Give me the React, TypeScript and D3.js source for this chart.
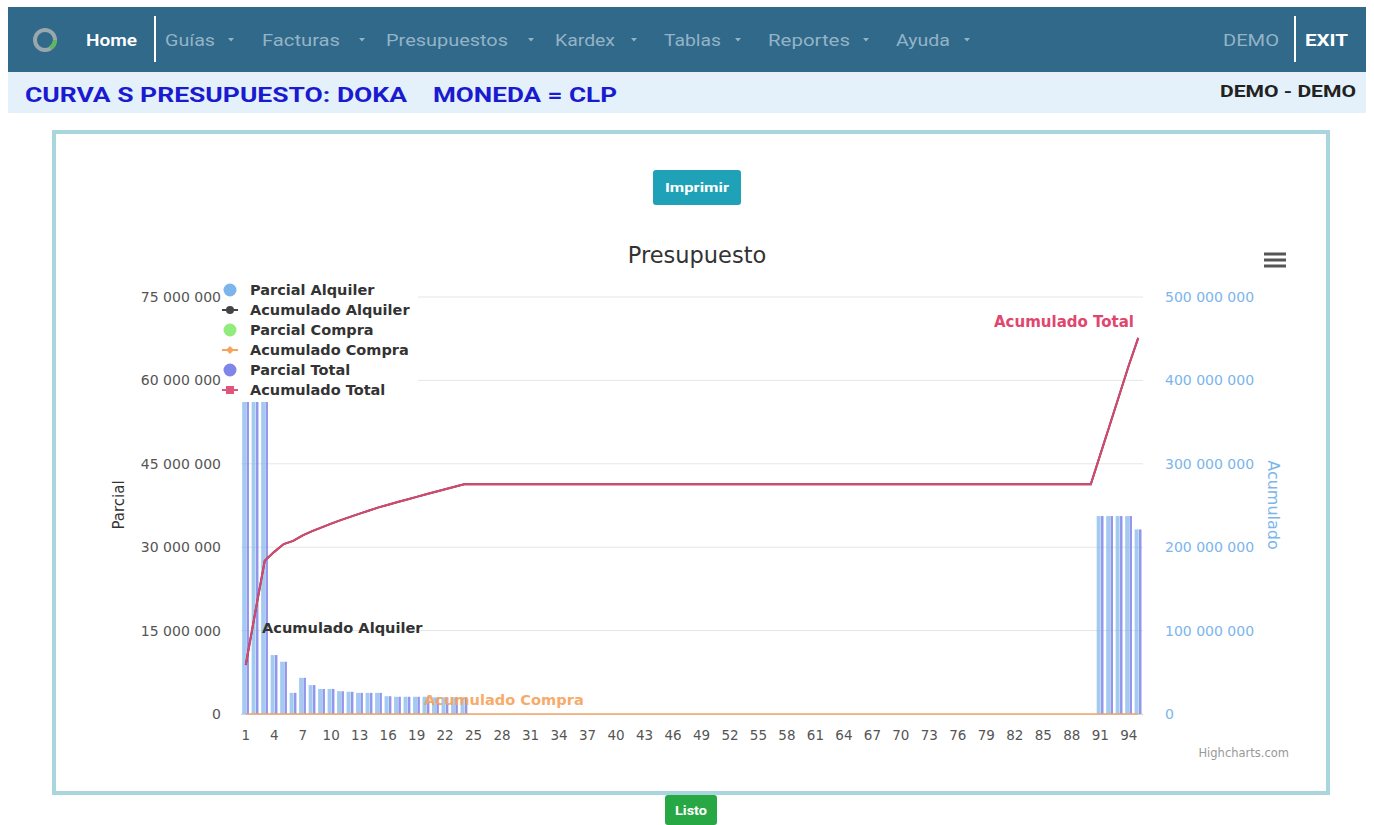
import * as d3 from "d3";

// categories 1..95 (periods)
const categories = [
  1, 2, 3, 4, 5, 6, 7, 8, 9, 10, 11, 12, 13, 14, 15, 16, 17, 18, 19, 20, 21, 22, 23, 24, 25, 26, 27, 28, 29, 30,
  31, 32, 33, 34, 35, 36, 37, 38, 39, 40, 41, 42, 43, 44, 45, 46, 47, 48, 49, 50, 51, 52, 53, 54, 55, 56, 57, 58, 59, 60,
  61, 62, 63, 64, 65, 66, 67, 68, 69, 70, 71, 72, 73, 74, 75, 76, 77, 78, 79, 80, 81, 82, 83, 84, 85, 86, 87, 88, 89, 90,
  91, 92, 93, 94, 95,
];

// values in millions CLP
const parcialAlquiler = [
  58.8, 63.0, 62.0, 10.6, 9.4, 3.8, 6.5, 5.2, 4.5, 4.5,
  4.1, 4.0, 3.8, 3.8, 3.8, 3.2, 3.1, 3.1, 3.1, 3.1,
  3.0, 3.0, 3.0, 3.0, 0, 0, 0, 0, 0, 0,
  0, 0, 0, 0, 0, 0, 0, 0, 0, 0,
  0, 0, 0, 0, 0, 0, 0, 0, 0, 0,
  0, 0, 0, 0, 0, 0, 0, 0, 0, 0,
  0, 0, 0, 0, 0, 0, 0, 0, 0, 0,
  0, 0, 0, 0, 0, 0, 0, 0, 0, 0,
  0, 0, 0, 0, 0, 0, 0, 0, 0, 0,
  35.6, 35.6, 35.6, 35.6, 33.2,
];
const parcialCompra = [
  0, 0, 0, 0, 0, 0, 0, 0, 0, 0,
  0, 0, 0, 0, 0, 0, 0, 0, 0, 0,
  0, 0, 0, 0, 0, 0, 0, 0, 0, 0,
  0, 0, 0, 0, 0, 0, 0, 0, 0, 0,
  0, 0, 0, 0, 0, 0, 0, 0, 0, 0,
  0, 0, 0, 0, 0, 0, 0, 0, 0, 0,
  0, 0, 0, 0, 0, 0, 0, 0, 0, 0,
  0, 0, 0, 0, 0, 0, 0, 0, 0, 0,
  0, 0, 0, 0, 0, 0, 0, 0, 0, 0,
  0, 0, 0, 0, 0,
];
const parcialTotal = parcialAlquiler;

const acumuladoAlquiler = [
  58.8, 121.8, 183.8, 194.4, 203.8, 207.6, 214.1, 219.3, 223.8, 228.3,
  232.4, 236.4, 240.2, 244.0, 247.8, 251.0, 254.1, 257.2, 260.3, 263.4,
  266.4, 269.4, 272.4, 275.4, 275.4, 275.4, 275.4, 275.4, 275.4, 275.4,
  275.4, 275.4, 275.4, 275.4, 275.4, 275.4, 275.4, 275.4, 275.4, 275.4,
  275.4, 275.4, 275.4, 275.4, 275.4, 275.4, 275.4, 275.4, 275.4, 275.4,
  275.4, 275.4, 275.4, 275.4, 275.4, 275.4, 275.4, 275.4, 275.4, 275.4,
  275.4, 275.4, 275.4, 275.4, 275.4, 275.4, 275.4, 275.4, 275.4, 275.4,
  275.4, 275.4, 275.4, 275.4, 275.4, 275.4, 275.4, 275.4, 275.4, 275.4,
  275.4, 275.4, 275.4, 275.4, 275.4, 275.4, 275.4, 275.4, 275.4, 275.4,
  311.0, 346.6, 382.2, 417.8, 451.0,
];
const acumuladoCompra = parcialCompra;
const acumuladoTotal = acumuladoAlquiler;

const leftTicks = [0, 15, 30, 45, 60, 75];
const rightTicks = [0, 100, 200, 300, 400, 500];

const navItems = ["Guías", "Facturas", "Presupuestos", "Kardex", "Tablas", "Reportes", "Ayuda"];
const navX = [165, 262, 386, 555, 664, 768, 896];
const navW = [50, 78, 122, 60, 57, 82, 54];
const navCaretX = [231, 362, 531, 634, 738, 866, 967];

const legendItems = [
  { name: "Parcial Alquiler", color: "#7cb5ec", kind: "column" },
  { name: "Acumulado Alquiler", color: "#434348", kind: "circle" },
  { name: "Parcial Compra", color: "#90ed7d", kind: "column" },
  { name: "Acumulado Compra", color: "#f7a35c", kind: "diamond" },
  { name: "Parcial Total", color: "#8085e9", kind: "column" },
  { name: "Acumulado Total", color: "#e0557a", kind: "square" },
];

const fmt = (v: number) => d3.format(",")(v).replace(/,/g, " ");

export default function App() {
  const W = 1374, H = 825;
  const x = d3.scaleBand<number>().domain(categories).range([241, 1143]).padding(0);
  const yL = d3.scaleLinear().domain([0, 75]).range([714, 297]);
  const yR = d3.scaleLinear().domain([0, 500]).range([714, 297]);
  const bw = x.bandwidth();
  const line = d3.line<number>().x((_, i) => x(categories[i])! + bw / 2).y((d) => yR(d));
  const chartFont = "'DejaVu Sans', Verdana, sans-serif";
  const uiFont = "Roboto, 'Liberation Sans', Arial, sans-serif";
  const fit = "spacingAndGlyphs";

  return (
    <div style={{ position: "absolute", left: 0, top: 0, width: W, height: H, background: "#fff" }}>
      <svg width={W} height={H} style={{ display: "block" }}>
        {/* navbar */}
        <rect x={8} y={7} width={1358} height={65} fill="#30698a" />
        <circle cx={45} cy={40} r={10} fill="none" stroke="#9aa7ad" strokeWidth={4} />
        <path d="M 50 48 A 10 10 0 0 0 55 40" fill="none" stroke="#5cb85c" strokeWidth={4} />
        <text x={86} y={46} fill="#fff" fontFamily={uiFont} fontSize={17} fontWeight={600} textLength={51} lengthAdjust={fit}>Home</text>
        <line x1={155} x2={155} y1={16} y2={62} stroke="#fff" strokeWidth={2} />
        {navItems.map((n, i) => (
          <g key={n}>
            <text x={navX[i]} y={46} fill="#94b3c6" fontFamily={uiFont} fontSize={17} textLength={navW[i]} lengthAdjust={fit}>{n}</text>
            <path d={`M ${navCaretX[i] - 3} 38 L ${navCaretX[i] + 3} 38 L ${navCaretX[i]} 41.5 Z`} fill="#94b3c6" />
          </g>
        ))}
        <text x={1223} y={46} fill="#94b3c6" fontFamily={uiFont} fontSize={17} textLength={56} lengthAdjust={fit}>DEMO</text>
        <line x1={1295} x2={1295} y1={16} y2={62} stroke="#fff" strokeWidth={2} />
        <text x={1305} y={46} fill="#fff" fontFamily={uiFont} fontSize={17} fontWeight={700} textLength={43} lengthAdjust={fit}>EXIT</text>

        {/* title bar */}
        <rect x={8} y={72} width={1358} height={41} fill="#e4f1fb" />
        <text x={25} y={102} fill="#1a1ad0" fontFamily={uiFont} fontSize={20} fontWeight={700} textLength={382} lengthAdjust={fit}>
          CURVA S PRESUPUESTO: DOKA
        </text>
        <text x={433} y={102} fill="#1a1ad0" fontFamily={uiFont} fontSize={20} fontWeight={700} textLength={184} lengthAdjust={fit}>
          MONEDA = CLP
        </text>
        <text x={1220} y={97} fill="#222" fontFamily={uiFont} fontSize={16} fontWeight={700} textLength={136} lengthAdjust={fit}>DEMO - DEMO</text>

        {/* chart panel */}
        <rect x={54} y={132} width={1274} height={661} fill="#fff" stroke="#a9d6dd" strokeWidth={4} />
        <rect x={653} y={170} width={88} height={35} rx={3} fill="#1fa2b7" />
        <text x={665} y={192} fill="#fff" fontFamily={uiFont} fontSize={13} fontWeight={700} textLength={64} lengthAdjust={fit}>Imprimir</text>

        <text x={697} y={263} textAnchor="middle" fill="#333" fontFamily={chartFont} fontSize={22.5}>Presupuesto</text>
        {[254, 260, 266].map((yy) => (
          <line key={yy} x1={1264} x2={1286} y1={yy} y2={yy} stroke="#555" strokeWidth={3} />
        ))}

        {/* grid */}
        {leftTicks.map((t) => (
          <line key={t} x1={241} x2={1143} y1={yL(t)} y2={yL(t)} stroke="#e6e6e6" />
        ))}
        <line x1={241} x2={1143} y1={714.5} y2={714.5} stroke="#ccd6eb" />

        {/* left axis */}
        {leftTicks.map((t) => (
          <text key={t} x={221} y={yL(t) + 5} textAnchor="end" fill="#555" fontFamily={chartFont} fontSize={14}>
            {fmt(t * 1e6)}
          </text>
        ))}
        <text transform="translate(124,505) rotate(-90)" textAnchor="middle" fill="#333" fontFamily={chartFont} fontSize={15}>Parcial</text>

        {/* right axis */}
        {rightTicks.map((t) => (
          <text key={t} x={1165} y={yR(t) + 5} fill="#7cb5ec" fontFamily={chartFont} fontSize={14}>
            {fmt(t * 1e6)}
          </text>
        ))}
        <text transform="translate(1268,505) rotate(90)" textAnchor="middle" fill="#7cb5ec" fontFamily={chartFont} fontSize={16}>Acumulado</text>

        {/* x axis labels */}
        {categories.filter((_, i) => i % 3 === 0).map((c) => (
          <text key={c} x={x(c)! + bw / 2} y={740} textAnchor="middle" fill="#555" fontFamily={chartFont} fontSize={13.5}>{c}</text>
        ))}

        {/* columns */}
        {categories.map((c, i) => (
          <g key={c}>
            <rect x={x(c)! + bw * 0.12} y={yL(Math.min(parcialAlquiler[i], 75))} width={bw * 0.42}
              height={714 - yL(Math.min(parcialAlquiler[i], 75))} fill="#7cb5ec" opacity={0.7} />
            <rect x={x(c)! + bw * 0.5} y={yL(Math.min(parcialCompra[i], 75))} width={bw * 0.1}
              height={714 - yL(Math.min(parcialCompra[i], 75))} fill="#90ed7d" />
            <rect x={x(c)! + bw * 0.58} y={yL(Math.min(parcialTotal[i], 75))} width={bw * 0.26}
              height={714 - yL(Math.min(parcialTotal[i], 75))} fill="#8085e9" opacity={0.85} />
          </g>
        ))}

        {/* lines */}
        <path d={line(acumuladoCompra)!} fill="none" stroke="#f7a35c" strokeWidth={2} opacity={0.7} />
        <path d={line(acumuladoAlquiler)!} fill="none" stroke="#434348" strokeWidth={2} />
        <path d={line(acumuladoTotal)!} fill="none" stroke="#d9466e" strokeWidth={2} />

        {/* series labels */}
        <text x={262} y={633} fill="#333" fontFamily={chartFont} fontSize={14.6} fontWeight={700}>Acumulado Alquiler</text>
        <text x={424} y={705} fill="#f7a35c" fontFamily={chartFont} fontSize={14.6} fontWeight={700} opacity={0.9}>Acumulado Compra</text>
        <text x={1134} y={327} textAnchor="end" fill="#e0466e" fontFamily={chartFont} fontSize={15} fontWeight={700}>Acumulado Total</text>

        {/* legend */}
        <rect x={222} y={280} width={196} height={122} fill="#fff" />
        {legendItems.map((it, i) => {
          const cy = 290 + i * 20;
          const cx = 230;
          return (
            <g key={it.name}>
              {it.kind === "column" ? (
                <circle cx={cx} cy={cy} r={6.5} fill={it.color} />
              ) : (
                <g>
                  <line x1={cx - 8} x2={cx + 8} y1={cy} y2={cy} stroke={it.color} strokeWidth={2} />
                  {it.kind === "circle" && <circle cx={cx} cy={cy} r={4} fill={it.color} />}
                  {it.kind === "diamond" && (
                    <path d={`M ${cx} ${cy - 4} L ${cx + 4} ${cy} L ${cx} ${cy + 4} L ${cx - 4} ${cy} Z`} fill={it.color} />
                  )}
                  {it.kind === "square" && <rect x={cx - 4} y={cy - 4} width={8} height={8} fill={it.color} />}
                </g>
              )}
              <text x={250} y={cy + 5} fill="#333" fontFamily={chartFont} fontSize={14.5} fontWeight={700}>{it.name}</text>
            </g>
          );
        })}

        <text x={1289} y={757} textAnchor="end" fill="#999" fontFamily={chartFont} fontSize={11.5}>Highcharts.com</text>

        {/* Listo button */}
        <rect x={665} y={795} width={52} height={30} rx={3} fill="#28a745" />
        <text x={675} y={815} fill="#fff" fontFamily={uiFont} fontSize={12} fontWeight={700} textLength={32} lengthAdjust={fit}>Listo</text>
      </svg>
    </div>
  );
}
